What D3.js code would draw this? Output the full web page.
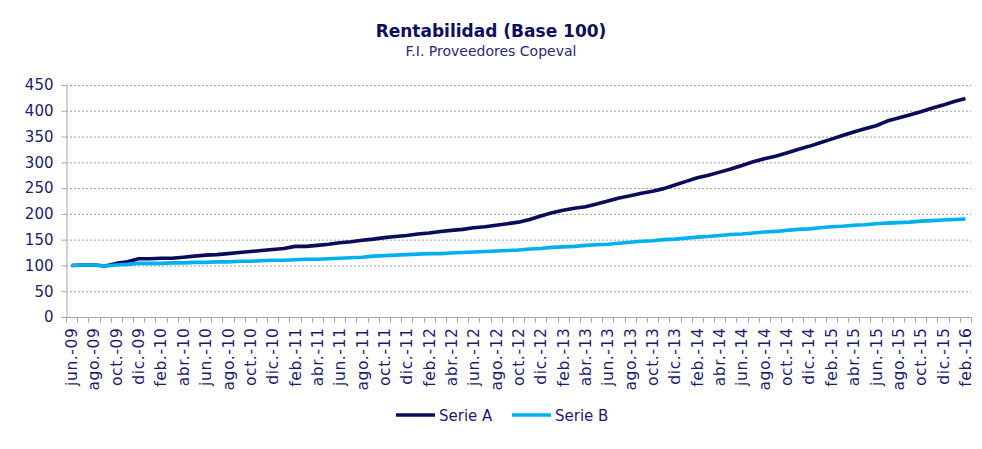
<!DOCTYPE html>
<html>
<head>
<meta charset="utf-8">
<script src="https://cdn.jsdelivr.net/npm/d3@7"></script>
<style>
  body { margin: 0; background: #fff; }
  svg { font-family: "DejaVu Sans", Verdana, sans-serif; }
</style>
</head>
<body>
<svg id="chart" width="982" height="449"></svg>
<script>
// months jun-09 .. feb-16
var monthNames = ["ene.", "feb.", "mar.", "abr.", "may.", "jun.", "jul.", "ago.", "sep.", "oct.", "nov.", "dic."];
var categories = [];
for (var k = 0; k < 81; k++) {
    var m = (5 + k) % 12, yr = 9 + Math.floor((5 + k) / 12);
    categories.push(monthNames[m] + "-" + (yr < 10 ? "0" + yr : yr));
}

var serieA = [100, 101, 101, 99, 104, 107, 113, 113, 114, 114,
              116, 118, 120, 121, 123, 125, 127, 129, 131, 133,
              137, 137, 139, 141, 144, 146, 149, 151, 154, 156,
              158, 161, 163, 166, 168, 170, 173, 175, 178, 181,
              184, 189, 196, 202, 207, 211, 214, 219, 225, 231,
              235, 240, 244, 249, 256, 263, 270, 275, 281, 287,
              294, 301, 307, 312, 318, 325, 331, 338, 345, 352,
              359, 365, 371, 380, 386, 392, 398, 405, 411, 418, 424];

var serieB = [100, 101, 101, 99, 101, 102, 104, 104, 104, 105,
              105, 106, 106, 107, 107, 108, 108, 109, 110, 110,
              111, 112, 112, 113, 114, 115, 116, 118, 119, 120,
              121, 122, 123, 123, 124, 125, 126, 127, 128, 129,
              130, 132, 133, 135, 136, 137, 139, 140, 141, 143,
              145, 147, 148, 150, 151, 153, 155, 156, 158, 160,
              161, 163, 165, 166, 168, 170, 171, 173, 175, 176,
              178, 179, 181, 182, 183, 184, 186, 187, 188, 189, 190];

var yTicks = [0, 50, 100, 150, 200, 250, 300, 350, 400, 450];
var seriesNames = ["Serie A", "Serie B"];
var seriesColors = ["#0b0b5c", "#00b0f0"];

var svg = d3.select("#chart"),
    margin = {top: 85, right: 11, bottom: 132, left: 66},
    width = +svg.attr("width") - margin.left - margin.right,
    height = +svg.attr("height") - margin.top - margin.bottom;

var textColor = "#1c1c6e";

var x = d3.scaleBand()
    .domain(categories)
    .range([margin.left, margin.left + width])
    .paddingInner(0).paddingOuter(0);

var y = d3.scaleLinear()
    .domain([0, 450])
    .range([margin.top + height, margin.top]);

// title
svg.append("text")
    .attr("x", 491).attr("y", 37)
    .attr("text-anchor", "middle")
    .style("font-size", "17px")
    .style("font-weight", "bold")
    .style("fill", "#0e0e5e")
    .text("Rentabilidad (Base 100)");

svg.append("text")
    .attr("x", 491).attr("y", 56)
    .attr("text-anchor", "middle")
    .style("font-size", "14px")
    .style("fill", "#2a2a78")
    .text("F.I. Proveedores Copeval");

// gridlines
svg.append("g")
    .selectAll("line")
    .data(yTicks.filter(function(d) { return d > 0; }))
    .enter().append("line")
    .attr("x1", margin.left).attr("x2", margin.left + width)
    .attr("y1", d => y(d) + 0.5).attr("y2", d => y(d) + 0.5)
    .style("stroke", "#a0a0a0")
    .style("stroke-dasharray", "2,2");

// y axis
var yAxis = svg.append("g")
    .attr("transform", "translate(" + (margin.left + 0.5) + ",0)")
    .call(d3.axisLeft(y).tickValues(yTicks).tickSize(5).tickPadding(8));
yAxis.select(".domain").style("stroke", "#a6a6a6");
yAxis.selectAll(".tick line").style("stroke", "#a6a6a6");
yAxis.selectAll("text")
    .style("font-size", "15px")
    .style("fill", textColor)
    .style("font-family", "DejaVu Sans, Verdana, sans-serif");

// x axis: ticks at category boundaries, labels every other month
var xg = svg.append("g")
    .attr("transform", "translate(0," + (margin.top + height + 0.5) + ")");
xg.append("line")
    .attr("x1", margin.left).attr("x2", margin.left + width)
    .style("stroke", "#a6a6a6");
xg.selectAll(".xtick")
    .data(categories.concat(["end"]))
    .enter().append("line")
    .attr("class", "xtick")
    .attr("x1", (d, i) => Math.round(margin.left + i * x.bandwidth()) + 0.5)
    .attr("x2", (d, i) => Math.round(margin.left + i * x.bandwidth()) + 0.5)
    .attr("y1", 0).attr("y2", 5)
    .style("stroke", "#a6a6a6");
xg.selectAll(".xlabel")
    .data(categories.filter((d, i) => i % 2 === 0))
    .enter().append("text")
    .attr("class", "xlabel")
    .attr("transform", d => "translate(" + (x(d) + x.bandwidth() / 2 + 5.5) + ",10) rotate(-90)")
    .attr("text-anchor", "end")
    .style("font-size", "15.5px")
    .style("letter-spacing", "0.6px")
    .style("fill", textColor)
    .text(d => d);

// lines
var line = d3.line()
    .x((d, i) => x(categories[i]) + x.bandwidth() / 2)
    .y(d => y(d));

[serieA, serieB].forEach(function(s, j) {
    svg.append("path")
        .datum(s)
        .attr("d", line)
        .style("fill", "none")
        .style("stroke", seriesColors[j])
        .style("stroke-width", 3.6)
        .style("stroke-linejoin", "round");
});

// legend
var legendX = [396, 512];
var legend = svg.selectAll(".legend")
    .data(seriesNames)
    .enter().append("g")
    .attr("class", "legend")
    .attr("transform", (d, i) => "translate(" + legendX[i] + ",415)");
legend.append("line")
    .attr("x1", 0).attr("x2", 39)
    .style("stroke", (d, i) => seriesColors[i])
    .style("stroke-width", 3.6);
legend.append("text")
    .attr("x", 43).attr("y", 5.5)
    .style("font-size", "15px")
    .style("fill", textColor)
    .text(d => d);
</script>
</body>
</html>
